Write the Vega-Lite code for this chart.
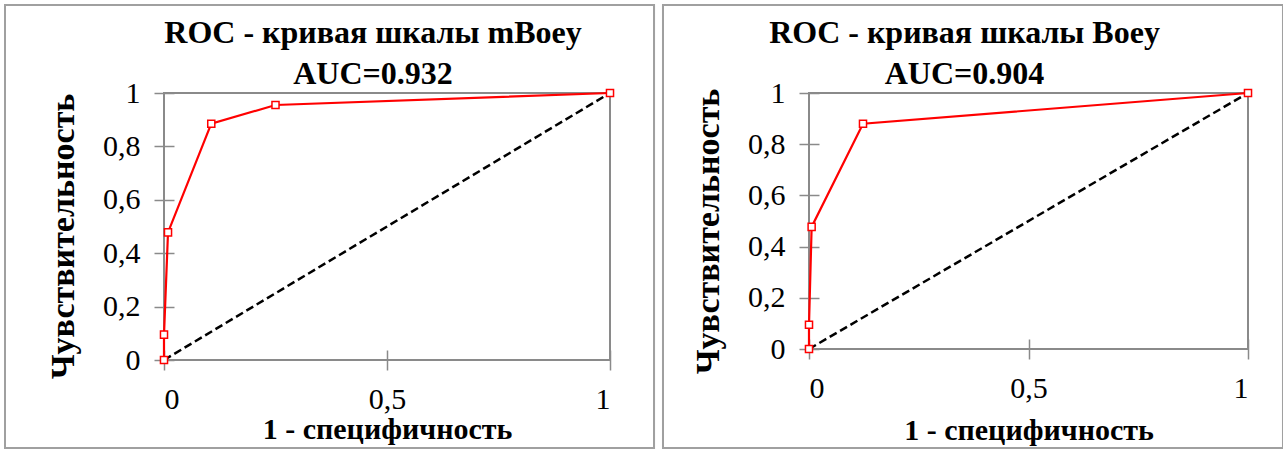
{
  "$schema": "https://vega.github.io/schema/vega-lite/v6.json",
  "background": "white",
  "autosize": {"type": "pad"},
  "padding": {"left": 3, "top": 2, "right": 0, "bottom": 0},
  "spacing": 3,
  "datasets": {
    "mboey": [
      {"x": 0, "y": 0},
      {"x": 0, "y": 0.095},
      {"x": 0.009, "y": 0.478},
      {"x": 0.106, "y": 0.885},
      {"x": 0.25, "y": 0.955},
      {"x": 1, "y": 1}
    ],
    "boey": [
      {"x": 0, "y": 0},
      {"x": 0, "y": 0.095},
      {"x": 0.006, "y": 0.477},
      {"x": 0.123, "y": 0.88},
      {"x": 1, "y": 1}
    ],
    "diag": [
      {"x": 0, "y": 0},
      {"x": 1, "y": 1}
    ]
  },
  "config": {
    "font": "Liberation Serif",
    "view": {"stroke": "#8a8a8a", "strokeWidth": 2},
    "axis": {
      "labelFont": "Liberation Serif",
      "labelFontSize": 30,
      "labelColor": "#000000",
      "titleFont": "Liberation Serif",
      "titleFontSize": 30,
      "titleFontWeight": "bold",
      "titleColor": "#000000",
      "domain": false,
      "grid": false,
      "tickColor": "#8a8a8a",
      "tickWidth": 1.5,
      "tickSize": 20,
      "offset": -10
    },
    "axisX": {"labelPadding": 14, "titlePadding": 0},
    "axisY": {"labelPadding": 14, "titlePadding": 22, "titleFontSize": 34},
    "title": {
      "font": "Liberation Serif",
      "fontSize": 32,
      "fontWeight": "bold",
      "color": "#000000",
      "lineHeight": 41,
      "offset": -87
    }
  },
  "hconcat": [
    {
      "width": 446,
      "height": 267,
      "title": {"text": ["ROC - кривая шкалы mBoey", "AUC=0.932"], "dx": -14},
      "layer": [
        {
          "data": {"name": "diag"},
          "mark": {"type": "rect", "filled": false, "stroke": "#a0a0a0", "strokeWidth": 2, "clip": false},
          "encoding": {
            "x": {"datum": -0.3565, "type": "quantitative", "scale": {"domain": [0, 1], "nice": false, "zero": false},
              "axis": {"values": [0, 0.5, 1], "title": "1 - специфичность", "labelExpr": "replace(format(datum.value, ''), '.', ',')"}},
            "x2": {"datum": 1.0987},
            "y": {"datum": 1.3296, "type": "quantitative", "scale": {"domain": [0, 1], "nice": false, "zero": false},
              "axis": {"values": [0, 0.2, 0.4, 0.6, 0.8, 1], "title": "Чувствительность", "titleY": 143, "labelExpr": "replace(format(datum.value, ''), '.', ',')"}},
            "y2": {"datum": -0.3296}
          }
        },
        {
          "data": {"name": "diag"},
          "mark": {"type": "line", "color": "#000000", "strokeWidth": 2.5, "strokeDash": [8, 4]},
          "encoding": {
            "x": {"field": "x", "type": "quantitative", "scale": {"domain": [0, 1], "nice": false, "zero": false},
              "axis": {"values": [0, 0.5, 1], "title": "1 - специфичность", "labelExpr": "replace(format(datum.value, ''), '.', ',')"}},
            "y": {"field": "y", "type": "quantitative", "scale": {"domain": [0, 1], "nice": false, "zero": false},
              "axis": {"values": [0, 0.2, 0.4, 0.6, 0.8, 1], "title": "Чувствительность", "titleY": 143, "labelExpr": "replace(format(datum.value, ''), '.', ',')"}}
          }
        },
        {
          "data": {"name": "mboey"},
          "mark": {"type": "line", "color": "#ff0000", "strokeWidth": 2.2},
          "encoding": {
            "x": {"field": "x", "type": "quantitative"},
            "y": {"field": "y", "type": "quantitative"},
            "order": {"field": "y", "type": "quantitative"}
          }
        },
        {
          "data": {"name": "mboey"},
          "mark": {"type": "point", "shape": "square", "filled": true, "fill": "#ffffff", "stroke": "#ff0000", "strokeWidth": 1.5, "size": 50, "opacity": 1},
          "encoding": {
            "x": {"field": "x", "type": "quantitative"},
            "y": {"field": "y", "type": "quantitative"}
          }
        }
      ]
    },
    {
      "width": 439,
      "height": 256,
      "title": {"text": ["ROC - кривая шкалы Boey", "AUC=0.904"], "dx": -64},
      "layer": [
        {
          "data": {"name": "diag"},
          "mark": {"type": "rect", "filled": false, "stroke": "#a0a0a0", "strokeWidth": 2, "clip": false},
          "encoding": {
            "x": {"datum": -0.3326, "type": "quantitative", "scale": {"domain": [0, 1], "nice": false, "zero": false},
              "axis": {"values": [0, 0.5, 1], "title": "1 - специфичность", "titlePadding": 12, "labelExpr": "replace(format(datum.value, ''), '.', ',')"}},
            "x2": {"datum": 1.0797},
            "y": {"datum": 1.34375, "type": "quantitative", "scale": {"domain": [0, 1], "nice": false, "zero": false},
              "axis": {"values": [0, 0.2, 0.4, 0.6, 0.8, 1], "title": "Чувствительность", "titleY": 138, "labelExpr": "replace(format(datum.value, ''), '.', ',')"}},
            "y2": {"datum": -0.3867}
          }
        },
        {
          "data": {"name": "diag"},
          "mark": {"type": "line", "color": "#000000", "strokeWidth": 2.5, "strokeDash": [8, 4]},
          "encoding": {
            "x": {"field": "x", "type": "quantitative", "scale": {"domain": [0, 1], "nice": false, "zero": false},
              "axis": {"values": [0, 0.5, 1], "title": "1 - специфичность", "titlePadding": 12, "labelExpr": "replace(format(datum.value, ''), '.', ',')"}},
            "y": {"field": "y", "type": "quantitative", "scale": {"domain": [0, 1], "nice": false, "zero": false},
              "axis": {"values": [0, 0.2, 0.4, 0.6, 0.8, 1], "title": "Чувствительность", "titleY": 138, "labelExpr": "replace(format(datum.value, ''), '.', ',')"}}
          }
        },
        {
          "data": {"name": "boey"},
          "mark": {"type": "line", "color": "#ff0000", "strokeWidth": 2.2},
          "encoding": {
            "x": {"field": "x", "type": "quantitative"},
            "y": {"field": "y", "type": "quantitative"},
            "order": {"field": "y", "type": "quantitative"}
          }
        },
        {
          "data": {"name": "boey"},
          "mark": {"type": "point", "shape": "square", "filled": true, "fill": "#ffffff", "stroke": "#ff0000", "strokeWidth": 1.5, "size": 50, "opacity": 1},
          "encoding": {
            "x": {"field": "x", "type": "quantitative"},
            "y": {"field": "y", "type": "quantitative"}
          }
        }
      ]
    }
  ]
}
